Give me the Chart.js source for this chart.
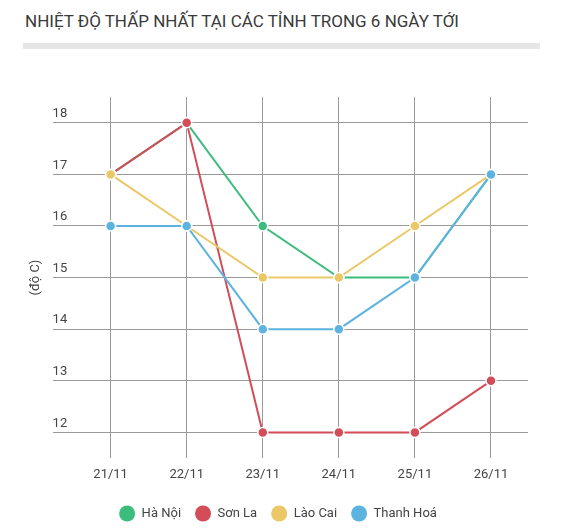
<!DOCTYPE html>
<html>
<head>
<meta charset="utf-8">
<script src="https://cdn.jsdelivr.net/npm/chart.js@4"></script>
<style>
    body { margin: 0; background: #fff; width: 563px; height: 530px; overflow: hidden; font-family: Roboto, sans-serif; }
    #title { position: absolute; left: 25px; top: 11px; font-size: 17px; color: #3a3a3a; white-space: nowrap; }
    #bar { position: absolute; left: 23px; top: 43px; width: 517px; height: 6px; background: #e6e6e6; }
    #wrap { position: absolute; left: 0; top: 60px; width: 563px; height: 470px; }
</style>
</head>
<body>
<div id="title">NHIỆT ĐỘ THẤP NHẤT TẠI CÁC TỈNH TRONG 6 NGÀY TỚI</div>
<div id="bar"></div>
<div id="wrap"><canvas id="chart"></canvas></div>
<script>
// Chart data
const days = ["21/11", "22/11", "23/11", "24/11", "25/11", "26/11"];
const yTicks = [12, 13, 14, 15, 16, 17, 18];
const haNoi = [17, 18, 16, 15, 15, 17];
const sonLa = [17, 18, 12, 12, 12, 13];
const laoCai = [17, 16, 15, 15, 16, 17];
const thanhHoa = [16, 16, 14, 14, 15, 17];

const seriesNames = ["Hà Nội", "Sơn La", "Lào Cai", "Thanh Hoá"];
const seriesData = [haNoi, sonLa, laoCai, thanhHoa];
const colors = ["#3dbd7d", "#d24d57", "#ebc865", "#5cb3e0"];

// Build the datasets, later series drawn on top
const datasets = seriesData.map((values, i) => ({
    label: seriesNames[i],
    data: values.map((v, j) => ({ x: j, y: v })),
    borderColor: colors[i],
    backgroundColor: colors[i],
    pointBackgroundColor: colors[i],
    pointBorderColor: "#fff",
    pointBorderWidth: 1.5,
    pointRadius: 5,
    borderWidth: 2,
    tension: 0,
    order: seriesData.length - i
}));

new Chart(document.getElementById("chart"), {
    type: "line",
    data: { datasets: datasets },
    options: {
        responsive: true,
        maintainAspectRatio: false,
        animation: false,
        layout: { padding: { left: 28, right: 35, top: 37, bottom: 0 } },
        scales: {
            x: {
                type: "linear",
                min: -0.763,
                max: 5.487,
                afterBuildTicks: axis => { axis.ticks = days.map((d, i) => ({ value: i })); },
                grid: { color: "#9a9a9a", lineWidth: 1, drawTicks: false },
                border: { display: false },
                ticks: {
                    padding: 9,
                    color: "#444",
                    font: { family: "Roboto", size: 13 },
                    callback: value => days[value]
                },
                // empty title only used as a spacer above the legend
                title: {
                    display: true,
                    text: "",
                    font: { size: 1 },
                    padding: { top: 0, bottom: 0 }
                }
            },
            y: {
                min: 11.5,
                max: 18.5,
                afterBuildTicks: axis => { axis.ticks = yTicks.map(v => ({ value: v })); },
                grid: { color: "#9a9a9a", lineWidth: 1, drawTicks: false },
                border: { display: false },
                ticks: {
                    mirror: true,
                    padding: 0,
                    labelOffset: -9,
                    color: "#444",
                    font: { family: "Roboto", size: 13 }
                },
                title: {
                    display: true,
                    text: "(độ C)",
                    color: "#444",
                    font: { family: "Roboto", size: 13 },
                    padding: { top: 0, bottom: 9 }
                }
            }
        },
        plugins: {
            tooltip: { enabled: false },
            legend: {
                position: "bottom",
                labels: {
                    usePointStyle: true,
                    pointStyle: "circle",
                    boxHeight: 11.3,
                    pointStyleWidth: 16,
                    padding: 14,
                    color: "#444",
                    font: { family: "Roboto", size: 13 },
                    sort: (a, b) => a.datasetIndex - b.datasetIndex,
                    generateLabels: chart => {
                        const items = Chart.defaults.plugins.legend.labels.generateLabels(chart);
                        items.forEach(item => {
                            item.strokeStyle = item.fillStyle;
                            item.lineWidth = 0;
                        });
                        return items;
                    }
                }
            }
        }
    }
});
</script>
</body>
</html>
